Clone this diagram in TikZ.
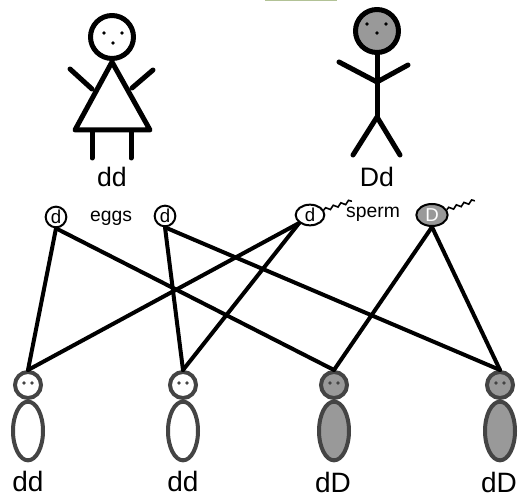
\documentclass[tikz,border=0pt]{standalone}
\usepackage{fontspec}
\setmainfont{Liberation Sans}
\usetikzlibrary{shapes.geometric,decorations.pathmorphing}

\definecolor{shade}{RGB}{153,153,153}
\definecolor{kidline}{RGB}{68,68,68}
\definecolor{leafgreen}{RGB}{178,194,150}

\tikzset{every picture/.style={line width=0.75pt}}

\begin{document}
\begin{tikzpicture}[x=0.75pt,y=0.75pt,yscale=-1,xscale=1,
	stick/.style={line width=3.75pt,line cap=round,line join=round},
	gamete/.style={draw,line width=1.5pt,inner sep=0pt,font=\fontsize{14}{14}\selectfont},
	egg/.style={gamete,circle,minimum size=15.5pt},
	sperm/.style={gamete,ellipse,minimum width=21.5pt,minimum height=15.5pt},
	tail/.style={line width=1.2pt,decorate,decoration={snake,segment length=6pt,amplitude=1.2pt}},
	cross/.style={line width=3pt,line cap=round},
	kidhead/.style={circle,draw=kidline,line width=3pt,minimum size=19.5pt,inner sep=0pt},
	kidbody/.style={ellipse,draw=kidline,line width=3pt,minimum width=22.5pt,minimum height=44pt,inner sep=0pt},
	parentlbl/.style={font=\fontsize{20}{20}\selectfont},
	kidlbl/.style={font=\fontsize{21}{21}\selectfont},
	note/.style={font=\fontsize{14.5}{15}\selectfont}]
	\useasboundingbox (0,0) rectangle (521,499);

	%Green edge at the top
	\draw [leafgreen,line width=0.9pt] (265,0.5) -- (337,0.5) ;

	%Mother: dd
	\draw [stick] (112,37) circle (21.5) ;
	\fill (104,33) circle (1.9) (122,33) circle (1.9) (113,43) circle (1.9) ;
	\draw [stick] (112,62) -- (75,130) -- (150,130) -- cycle ;
	\draw [stick] (70,69) -- (92,89) (153,70) -- (132,88) ;
	\draw [stick] (92,131) -- (92,158) (131,131) -- (131,158) ;
	% Text Node
	\node [parentlbl] (mom) at (112,177) {dd};

	%Father: Dd
	\draw [stick,fill=shade] (377,31) circle (21.5) ;
	\fill (367,24) circle (1.9) (386,24) circle (1.9) (377,33) circle (1.9) ;
	\draw [stick] (377,54) -- (377,117) ;
	\draw [stick] (339,62) -- (377,82) -- (408,65) ;
	\draw [stick] (353,155) -- (377,117) -- (400,155) ;
	% Text Node
	\node [parentlbl] (dad) at (377,177) {Dd};

	%Gametes
	\node [egg] (egg1) at (56,217) {d};
	\node [egg] (egg2) at (165,216) {d};
	\node [note] (eggs) at (111,218) {eggs};
	\node [sperm] (sp1) at (310,215) {d};
	\node [sperm,fill=shade,text=white,minimum width=23.5pt,minimum height=16.5pt] (sp2) at (432,215) {D};
	\node [note] (sperm) at (373,214) {sperm};
	\draw [tail] (sp1.20) -- ++(28,-9) ;
	\draw [tail] (sp2.20) -- ++(28,-9) ;

	%Children
	\foreach \n/\x/\col in {1/28/white,2/183/white,3/334/shade,4/500/shade}{
		\node [kidhead,fill=\col] (kid\n) at (\x,385) {};
		\node [kidbody,fill=\col] (body\n) at (\x,431) {};
		\fill [kidline] (\x-4,383) circle (1.8) (\x+4,383) circle (1.8) ;
	}
	\node [kidlbl] (lbl1) at (28,481) {dd};
	\node [kidlbl] (lbl2) at (183,481) {dd};
	\node [kidlbl] (lbl3) at (333,482) {dD};
	\node [kidlbl] (lbl4) at (499,482) {dD};

	%Crosses
	\draw [cross] (egg1.south) -- (kid1.north) ;
	\draw [cross] (egg1.south) -- (kid3.north) ;
	\draw [cross] (egg2.south) -- (kid2.north) ;
	\draw [cross] (egg2.south) -- (kid4.north) ;
	\draw [cross] (sp1.south west) -- (kid1.north) ;
	\draw [cross] (sp1.south west) -- (kid2.north) ;
	\draw [cross] (sp2.south) -- (kid3.north) ;
	\draw [cross] (sp2.south) -- (kid4.north) ;

\end{tikzpicture}
\end{document}
